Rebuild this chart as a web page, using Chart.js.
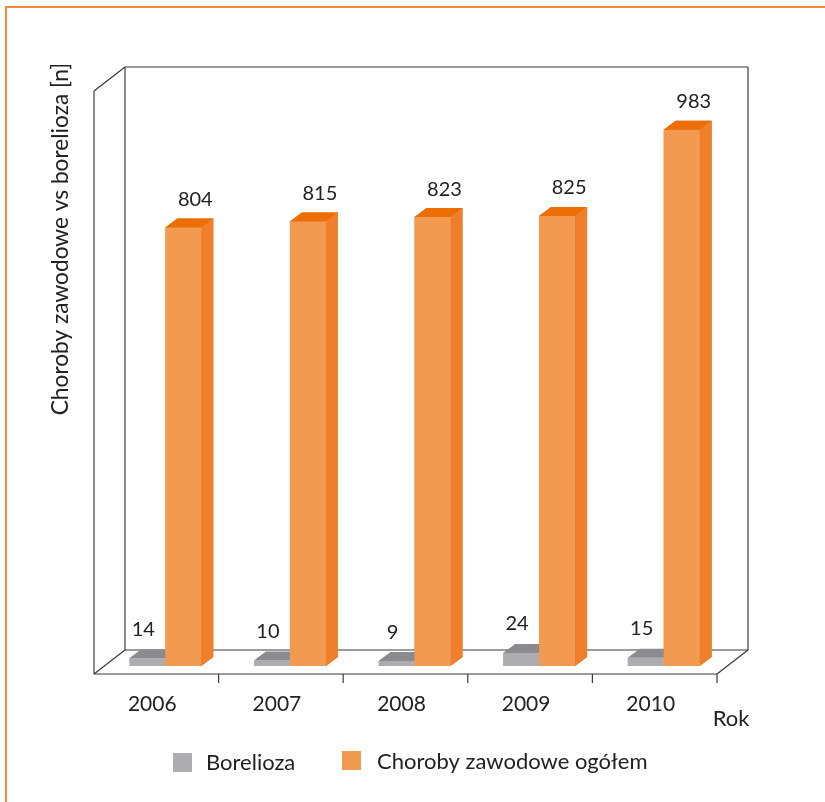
<!DOCTYPE html>
<html>
<head>
<meta charset="utf-8">
<script src="https://cdn.jsdelivr.net/npm/chart.js@4/dist/chart.umd.min.js"></script>
<style>
    html, body { margin: 0; padding: 0; background: #fff; }
    #wrap { width: 825px; height: 802px; position: relative; }
</style>
</head>
<body>
<div id="wrap"><canvas id="chart"></canvas></div>
<script>
// --- DATA ---
const years = ['2006', '2007', '2008', '2009', '2010'];
const borelioza = [14, 10, 9, 24, 15];
const chorobyOgolem = [804, 815, 823, 825, 983];
const seriesNames = ['Borelioza', 'Choroby zawodowe ogółem'];
const yTitle = 'Choroby zawodowe vs borelioza [n]';
const xTitle = 'Rok';

// --- LOOK ---
const FONT = 'Lato, "Open Sans", sans-serif';
const GRAY = { front: '#adadb1', top: '#8b8a8f', side: '#9c9ca0' };
const ORANGE = { front: '#f29a50', top: '#ee6e06', side: '#ef7f2b' };
const BAR_DX = 12, BAR_DY = -9;     // depth of a bar
const BOX_DX = 31, BOX_DY = -24;    // depth of the floor / walls
const FRONT_SHIFT_X = -9, FRONT_SHIFT_Y = 8; // floor front edge vs bar base

function poly(ctx, pts, fill) {
    ctx.beginPath();
    ctx.moveTo(pts[0][0], pts[0][1]);
    for (let i = 1; i < pts.length; i++) ctx.lineTo(pts[i][0], pts[i][1]);
    ctx.closePath();
    ctx.fillStyle = fill;
    ctx.fill();
}

function line(ctx, x1, y1, x2, y2) {
    ctx.beginPath();
    ctx.moveTo(x1, y1);
    ctx.lineTo(x2, y2);
    ctx.stroke();
}

function drawDepth(ctx, meta, colors) {
    meta.data.forEach(bar => {
        const { x, y, base, width } = bar.getProps(['x', 'y', 'base', 'width'], true);
        const l = x - width / 2, r = x + width / 2;
        poly(ctx, [[r, y], [r + BAR_DX, y + BAR_DY], [r + BAR_DX, base + BAR_DY], [r, base]], colors.side);
        poly(ctx, [[l, y], [r, y], [r + BAR_DX, y + BAR_DY], [l + BAR_DX, y + BAR_DY]], colors.top);
    });
}

const box3d = {
    id: 'box3d',
    beforeDatasetsDraw(chart) {
        const { ctx, chartArea: a } = chart;
        ctx.save();

        // page frame
        ctx.strokeStyle = '#f08a3c';
        ctx.lineWidth = 2;
        ctx.beginPath();
        ctx.moveTo(6, 802);
        ctx.lineTo(6, 7);
        ctx.lineTo(825, 7);
        ctx.stroke();

        const fl = a.left + FRONT_SHIFT_X, fr = a.right + FRONT_SHIFT_X;
        const fb = a.bottom + FRONT_SHIFT_Y;
        const bl = fl + BOX_DX, br = fr + BOX_DX, bb = fb + BOX_DY;
        const top = a.top + 1;

        ctx.strokeStyle = '#3a3a3a';
        ctx.lineWidth = 1.2;
        // back wall
        line(ctx, bl, top, br, top);
        line(ctx, bl, top, bl, bb);
        line(ctx, br, top, br, bb);
        line(ctx, bl, bb, br, bb);
        // left wall
        line(ctx, fl, top - BOX_DY, bl, top);
        line(ctx, fl, top - BOX_DY, fl, fb);
        line(ctx, fl, fb, bl, bb);
        // floor
        line(ctx, fl, fb, fr, fb);
        line(ctx, fr, fb, br, bb);
        // category ticks
        const step = (fr - fl) / years.length;
        for (let i = 1; i <= years.length; i++) {
            const x = fl + step * i;
            line(ctx, x, fb, x, fb + 9);
        }
        ctx.restore();
    },
    // Chart.js paints the last dataset first, so the orange one comes before the gray one
    afterDatasetDraw(chart, args) {
        const { ctx } = chart;
        ctx.save();
        if (args.index === 1) {
            drawDepth(ctx, args.meta, ORANGE);
        } else {
            drawDepth(ctx, args.meta, GRAY);
            // orange bars stand in front of the gray ones' depth
            const orange = chart.getDatasetMeta(1);
            orange.data.forEach(bar => bar.draw(ctx));
            drawDepth(ctx, orange, ORANGE);
        }
        ctx.restore();
    },
    afterDraw(chart) {
        const { ctx } = chart;
        ctx.save();
        ctx.fillStyle = '#222';
        ctx.textAlign = 'center';
        ctx.textBaseline = 'middle';

        // value labels
        ctx.font = '20px ' + FONT;
        chart.getDatasetMeta(0).data.forEach((bar, i) => {
            ctx.fillText(String(borelioza[i]), bar.x - 4, bar.y - 29);
        });
        chart.getDatasetMeta(1).data.forEach((bar, i) => {
            ctx.fillText(String(chorobyOgolem[i]), bar.x + 12, bar.y - 28);
        });

        // category labels
        const xs = chart.scales.x;
        ctx.font = '21px ' + FONT;
        years.forEach((yr, i) => {
            ctx.fillText(yr, xs.getPixelForValue(i) + FRONT_SHIFT_X - 4, 704);
        });
        ctx.font = '22px ' + FONT;
        ctx.fillText(xTitle, 731, 719);

        // y axis title
        ctx.save();
        ctx.translate(61, 239);
        ctx.rotate(-Math.PI / 2);
        ctx.font = '22.7px ' + FONT;
        ctx.fillText(yTitle, 0, 0);
        ctx.restore();

        // legend
        ctx.textAlign = 'left';
        ctx.fillStyle = GRAY.front;
        ctx.fillRect(173, 753, 19, 19);
        ctx.fillStyle = ORANGE.front;
        ctx.fillRect(342, 751, 19, 19);
        ctx.fillStyle = '#222';
        ctx.font = '22px ' + FONT;
        ctx.fillText(seriesNames[0], 206, 763);
        ctx.fillText(seriesNames[1], 377, 762);
        ctx.restore();
    }
};

new Chart(document.getElementById('chart'), {
    type: 'bar',
    data: {
        labels: years,
        datasets: [
            { label: seriesNames[0], data: borelioza, backgroundColor: GRAY.front, borderWidth: 0 },
            { label: seriesNames[1], data: chorobyOgolem, backgroundColor: ORANGE.front, borderWidth: 0 }
        ]
    },
    options: {
        responsive: true,
        maintainAspectRatio: false,
        animation: false,
        layout: { padding: { left: 103, right: 99, top: 66, bottom: 136 } },
        datasets: { bar: { categoryPercentage: 0.578, barPercentage: 1 } },
        plugins: { legend: { display: false }, tooltip: { enabled: false } },
        scales: {
            x: { display: false },
            y: { display: false, min: 0, max: 1100 }
        }
    },
    plugins: [box3d]
});
</script>
</body>
</html>
